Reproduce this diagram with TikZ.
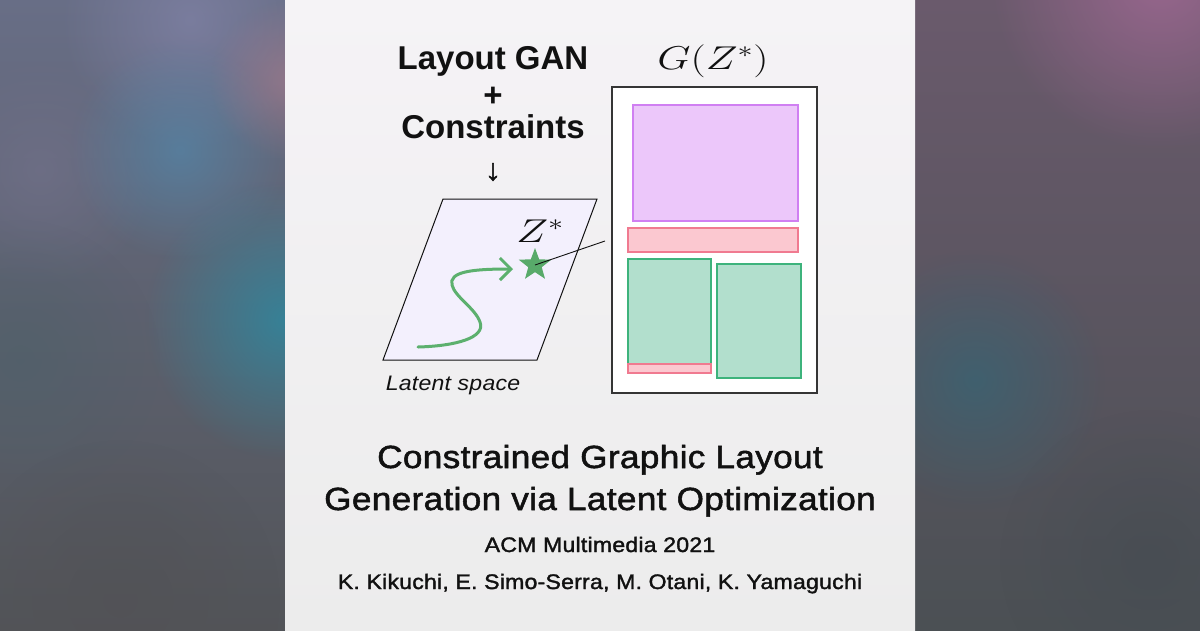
\RequirePackage{fix-cm}
\documentclass[tikz,border=0pt]{standalone}
\usepackage[no-math]{fontspec}
\setmainfont{Liberation Sans}
\newfontfamily\spaced[FakeStretch=1.1,LetterSpace=1]{Liberation Sans}
\newfontfamily\medfont[FakeStretch=1.1,LetterSpace=1,FakeBold=1.6]{Liberation Sans}
\usepackage{amsmath}
\usepackage{graphicx}
\usepackage{xcolor}
\usetikzlibrary{arrows.meta}
\usetikzlibrary{fadings}
\usetikzlibrary{shapes.geometric}
\definecolor{ink}{HTML}{111111}
\definecolor{leftTop}{HTML}{686E86}
\definecolor{leftMid}{HTML}{5C7A8E}
\definecolor{leftBot}{HTML}{525458}
\definecolor{rightTop}{HTML}{6A5A6C}
\definecolor{rightMid}{HTML}{5C5A64}
\definecolor{rightBot}{HTML}{4B5054}
\definecolor{panelTop}{HTML}{F5F3F6}
\definecolor{panelMid}{HTML}{EDF4F7}
\definecolor{panelBot}{HTML}{ECECEC}
\definecolor{latentFill}{HTML}{F3F0FD}
\definecolor{imgFill}{HTML}{ECC7FA}
\definecolor{imgLine}{HTML}{D07FF2}
\definecolor{txtFill}{HTML}{FBC8D0}
\definecolor{txtLine}{HTML}{F07A90}
\definecolor{picFill}{HTML}{B2DFCD}
\definecolor{picLine}{HTML}{3DB37C}
\definecolor{starGreen}{HTML}{58AA6A}
\definecolor{walkGreen}{HTML}{5CB06E}
\tikzfading[name=blob, inner color=transparent!0, outer color=transparent!100]

\begin{document}
\begin{tikzpicture}[x=1pt,y=-1pt,
	every node/.style={inner sep=0pt,text=ink},
	head/.style={font=\fontsize{33}{33}\selectfont\bfseries,anchor=base},
	maths/.style={font=\fontsize{33}{33}\selectfont,anchor=base},
	title/.style={font=\fontsize{32}{32}\medfont,anchor=base},
	haze/.style={path fading=blob,fill opacity=0.75},
	element/.style={line width=2.4pt},
	image/.style={element,draw=imgLine,fill=imgFill},
	textbar/.style={element,draw=txtLine,fill=txtFill},
	photo/.style={element,draw=picLine,fill=picFill}]
	\useasboundingbox (0,0) rectangle (1200,630);
	% blurred sides
	\begin{scope}
		\clip (0,0) rectangle (285,630);
		\shade[top color=leftTop,middle color=leftMid,bottom color=leftBot] (0,0) rectangle (285,630);
		\fill[haze,color={rgb,255:red,128;green,130;blue,166}] (190,20) circle[radius=130pt];
		\fill[haze,color={rgb,255:red,112;green,112;blue,136}] (40,170) circle[radius=120pt];
		\fill[haze,color={rgb,255:red,84;green,132;blue,166}] (180,150) circle[radius=110pt];
		\fill[haze,color={rgb,255:red,158;green,122;blue,140}] (290,80) circle[radius=80pt];
		\fill[haze,color={rgb,255:red,42;green,140;blue,164}] (285,320) circle[radius=140pt];
		\fill[haze,color={rgb,255:red,80;green,96;blue,106}] (20,360) circle[radius=140pt];
		\fill[haze,color={rgb,255:red,82;green,82;blue,86}] (120,600) circle[radius=160pt];
	\end{scope}
	\begin{scope}
		\clip (915,0) rectangle (1200,630);
		\shade[top color=rightTop,middle color=rightMid,bottom color=rightBot] (915,0) rectangle (1200,630);
		\fill[haze,color={rgb,255:red,166;green,106;blue,152}] (1160,-20) circle[radius=170pt];
		\fill[haze,color={rgb,255:red,56;green,100;blue,116}] (975,380) circle[radius=130pt];
		\fill[haze,color={rgb,255:red,70;green,76;blue,82}] (1150,560) circle[radius=150pt];
	\end{scope}
	\shade[top color=panelTop,middle color=panelMid,bottom color=panelBot] (285,0) rectangle (915,630);
	% heading
	\node[head] (layoutgan) at (493,69) {Layout GAN};
	\node[head] (plus) at (493,106) {+};
	\node[head] (constraints) at (493,138) {Constraints};
	\node[font=\fontsize{30}{30}\medfont] (down) at (493,172) {↓};
	\node[maths] (gz) at (713,69) {\scalebox{1.3}[1]{$G(Z^{*})$}};
	% latent space
	\draw[fill=latentFill,draw=ink,line width=1pt] (443,199) -- (597,199) -- (537,360) -- (383,360) -- cycle;
	\node[maths] (zlabel) at (540,242) {\scalebox{1.3}[1]{$Z^{*}$}};
	\node[star,star points=5,star point ratio=2.4,minimum size=34pt,fill=starGreen] (zstar) at (535,265) {};
	\coordinate (walkstart) at (418,347);
	\coordinate (walkend) at (513,269);
	\draw[walkGreen,line width=3pt,line cap=round,-{Straight Barb[length=11pt,width=22pt]}] (walkstart) .. controls (455,346) and (486,338) .. (480,322) .. controls (475,308) and (455,297) .. (452,285) .. controls (449,272) and (470,269) .. (walkend);
	\node[font=\fontsize{21}{21}\spaced\itshape,anchor=base] (latent) at (453,390) {Latent space};
	% generated layout
	\draw[fill=white,draw=ink!85,line width=1.2pt] (612,87) rectangle (817,393);
	\draw[image] (633,105) rectangle (798,221);
	\draw[textbar] (628,228) rectangle (798,252);
	\draw[photo] (628,259) rectangle (711,373);
	\draw[textbar] (628,364) rectangle (711,373);
	\draw[photo] (717,264) rectangle (801,378);
	\coordinate (pointer) at (605,241);
	\draw[ink,line width=0.9pt] (zstar.center) -- (pointer);
	% title
	\node[title] (title1) at (600,468) {Constrained Graphic Layout};
	\node[title] (title2) at (600,510) {Generation via Latent Optimization};
	\node[font=\fontsize{21}{21}\medfont,anchor=base] (venue) at (600,552) {ACM Multimedia 2021};
	\node[font=\fontsize{21}{21}\medfont,anchor=base] (authors) at (600,589) {K. Kikuchi, E. Simo-Serra, M. Otani, K. Yamaguchi};
\end{tikzpicture}
\end{document}
